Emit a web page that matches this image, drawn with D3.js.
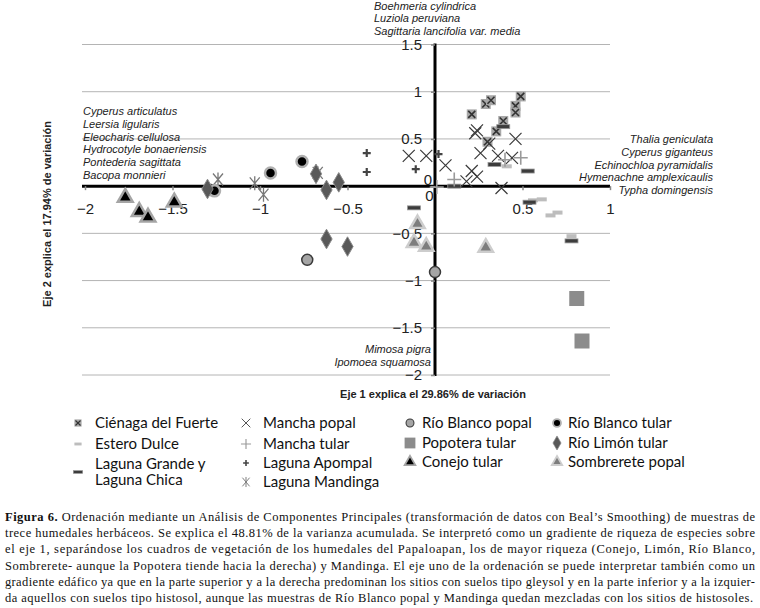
<!DOCTYPE html>
<html>
<head>
<meta charset="utf-8">
<script src="https://cdn.jsdelivr.net/npm/d3@7"></script>
<style>
  body { margin: 0; background: #fff; }
  svg { display: block; }
</style>
</head>
<body>
<svg id="chart" width="760" height="608"></svg>
<script>
// Valores (eje 1, eje 2)
const cienaga = [[0.21, 0.76], [0.29, 0.87], [0.32, 0.91], [0.49, 0.95], [0.46, 0.85], [0.46, 0.78], [0.39, 0.69], [0.35, 0.58], [0.30, 0.47]];
const estero = [[0.41, 0.21], [0.56, -0.15], [0.61, -0.14], [0.66, -0.31], [0.70, -0.28], [0.78, -0.53]];
const lagunaGrande = [[0.39, 0.63], [0.34, 0.23], [0.53, 0.16], [0.11, 0.0], [0.54, -0.17], [0.78, -0.58], [-0.12, -0.23]];
const manchaPopal = [[-0.15, 0.32], [-0.05, 0.32], [0.06, 0.22], [0.18, 0.05], [0.21, 0.16], [0.24, 0.10], [0.23, 0.56], [0.24, 0.59], [0.26, 0.35], [0.31, 0.45], [0.36, 0.32], [0.46, 0.50], [0.44, 0.30], [0.38, -0.02]];
const manchaTular = [[0.01, -0.01], [0.11, 0.07], [0.40, 0.28], [0.49, 0.30]];
const apompal = [[-0.39, 0.35], [-0.39, 0.15], [-0.11, 0.18], [0.02, 0.34]];
const mandinga = [[-1.24, 0.07], [-1.03, 0.03], [-0.98, -0.09], [-0.67, 0.14]];
const rioBlancoPopal = [[-0.73, -0.78], [0.0, -0.91], [-1.28, -0.04]];
const popotera = [[0.81, -1.19], [0.84, -1.64]];
const conejo = [[-1.77, -0.12], [-1.69, -0.27], [-1.64, -0.33], [-1.49, -0.17]];
const rioBlancoTular = [[-0.94, 0.14], [-0.76, 0.26], [-1.26, -0.05]];
const rioLimon = [[-1.30, -0.03], [-0.68, 0.13], [-0.62, -0.04], [-0.55, 0.04], [-0.62, -0.56], [-0.50, -0.64]];
const sombrerete = [[-0.10, -0.40], [-0.12, -0.60], [-0.05, -0.64], [0.29, -0.65]];

const xTicks = [-2, -1.5, -1, -0.5, 0, 0.5, 1];
const yTicks = [-2, -1.5, -1, -0.5, 0, 0.5, 1, 1.5];

const speciesTop = ["Boehmeria cylindrica", "Luziola peruviana", "Sagittaria lancifolia var. media"];
const speciesLeft = ["Cyperus articulatus", "Leersia ligularis", "Eleocharis cellulosa", "Hydrocotyle bonaeriensis", "Pontederia sagittata", "Bacopa monnieri"];
const speciesRight = ["Thalia geniculata", "Cyperus giganteus", "Echinochloa pyramidalis", "Hymenachne amplexicaulis", "Typha domingensis"];
const speciesBottom = ["Mimosa pigra", "Ipomoea squamosa"];

const caption = [
  "Ordenación mediante un Análisis de Componentes Principales (transformación de datos con Beal’s Smoothing) de muestras de",
  "trece humedales herbáceos. Se explica el 48.81% de la varianza acumulada. Se interpretó como un gradiente de riqueza de especies sobre",
  "el eje 1, separándose los cuadros de vegetación de los humedales del Papaloapan, los de mayor riqueza  (Conejo, Limón, Río Blanco,",
  "Sombrerete- aunque la Popotera tiende hacia la derecha) y Mandinga. El eje uno de la ordenación se puede interpretar también como un",
  "gradiente edáfico ya que en la parte superior y a la derecha predominan los sitios con suelos tipo gleysol y en la parte inferior y a la izquier-",
  "da aquellos con suelos tipo histosol, aunque las muestras de Río Blanco popal y Mandinga quedan mezcladas con los sitios de histosoles."
];

// series en orden de dibujo + forma de marcador
const series = [
  { name: "Ciénaga del Fuerte", data: cienaga, mark: "cienaga" },
  { name: "Estero Dulce", data: estero, mark: "dashLight" },
  { name: "Laguna Grande y\nLaguna Chica", data: lagunaGrande, mark: "dashDark" },
  { name: "Mancha popal", data: manchaPopal, mark: "cross" },
  { name: "Mancha tular", data: manchaTular, mark: "plus" },
  { name: "Laguna Apompal", data: apompal, mark: "plusBold" },
  { name: "Laguna Mandinga", data: mandinga, mark: "star" },
  { name: "Río Blanco popal", data: rioBlancoPopal, mark: "circleGrey" },
  { name: "Popotera tular", data: popotera, mark: "square" },
  { name: "Conejo tular", data: conejo, mark: "triBlack" },
  { name: "Río Blanco tular", data: rioBlancoTular, mark: "circleBlack" },
  { name: "Río Limón tular", data: rioLimon, mark: "diamond" },
  { name: "Sombrerete popal", data: sombrerete, mark: "triGrey" }
];

const svg = d3.select("#chart");
const x = d3.scaleLinear().domain([-2, 1]).range([85, 610]);
const y = d3.scaleLinear().domain([-2, 1.5]).range([375, 44.5]);

// líneas de cuadrícula
svg.append("g").selectAll("line")
  .data(yTicks.filter(v => v !== 0))
  .enter().append("line")
  .attr("x1", 82).attr("x2", 610)
  .attr("y1", d => y(d)).attr("y2", d => y(d))
  .attr("stroke", "#b4b4b4").attr("stroke-width", 1);

// ejes que cruzan en el origen
const xAxis = svg.append("g")
  .attr("transform", `translate(0,${y(0)})`)
  .call(d3.axisBottom(x).tickValues(xTicks).tickFormat(d3.format("")).tickSize(4).tickPadding(13));
const yAxis = svg.append("g")
  .attr("transform", `translate(${x(0)},0)`)
  .call(d3.axisLeft(y).tickValues(yTicks).tickFormat(d3.format("")).tickSize(4).tickPadding(9));

[xAxis, yAxis].forEach(ax => {
  ax.select(".domain").attr("stroke", "#000").attr("stroke-width", 3);
  ax.selectAll(".tick line").attr("stroke", "#888").attr("stroke-width", 1.5);
  ax.selectAll(".tick text")
    .attr("fill", "#222")
    .style("font-family", "'Liberation Sans', Arial, sans-serif")
    .style("font-size", "15px");
});
xAxis.select(".domain").attr("d", `M82,0H610`);
yAxis.select(".domain").attr("d", `M0,${y(1.5) - 1}V${y(-2) + 1}`);
xAxis.selectAll(".tick").filter(d => d === 0).select("text").attr("x", -6).attr("y", 4);
yAxis.selectAll(".tick").filter(d => d === 0).select("text").attr("x", -3).attr("y", -6);

// marcadores
function drawMark(g, mark) {
  switch (mark) {
    case "cienaga":
      g.append("rect").attr("x", -5).attr("y", -5).attr("width", 10).attr("height", 10).attr("fill", "#a8a8a8");
      g.append("path").attr("d", "M-3.5,-3.5L3.5,3.5M3.5,-3.5L-3.5,3.5").attr("stroke", "#333").attr("stroke-width", 1.6).attr("fill", "none");
      break;
    case "dashLight":
      g.append("rect").attr("x", -5).attr("y", -2).attr("width", 10).attr("height", 4).attr("fill", "#bdbdbd");
      break;
    case "dashDark":
      g.append("rect").attr("x", -6.5).attr("y", -2).attr("width", 13).attr("height", 4).attr("fill", "#3c3c3c")
        .attr("stroke", "#999").attr("stroke-width", 0.8);
      break;
    case "cross":
      g.append("path").attr("d", "M-6,-6L6,6M6,-6L-6,6").attr("stroke", "#3a3a3a").attr("stroke-width", 1.2).attr("fill", "none");
      break;
    case "plus":
      g.append("path").attr("d", "M-7,0H7M0,-7V7").attr("stroke", "#9a9a9a").attr("stroke-width", 1.6).attr("fill", "none");
      break;
    case "plusBold":
      g.append("path").attr("d", "M-4,0H4M0,-4V4").attr("stroke", "#444").attr("stroke-width", 2.2).attr("fill", "none");
      break;
    case "star":
      g.append("path").attr("d", "M-5,-6L5,6M5,-6L-5,6M0,-7V7").attr("stroke", "#777").attr("stroke-width", 1.3).attr("fill", "none");
      break;
    case "circleGrey":
      g.append("circle").attr("r", 5.5).attr("fill", "#a5a5a5").attr("stroke", "#3a3a3a").attr("stroke-width", 1.5);
      break;
    case "square":
      g.append("rect").attr("x", -7.5).attr("y", -7.5).attr("width", 15).attr("height", 15).attr("fill", "#8c8c8c");
      break;
    case "triBlack":
      g.append("path").attr("d", d3.symbol(d3.symbolTriangle, 95)()).attr("fill", "#000")
        .attr("stroke", "#a5a5a5").attr("stroke-width", 2.5);
      break;
    case "circleBlack":
      g.append("circle").attr("r", 5.5).attr("fill", "#000").attr("stroke", "#b0b0b0").attr("stroke-width", 2.5);
      break;
    case "diamond":
      g.append("path").attr("d", d3.symbol(d3.symbolDiamond, 110)()).attr("fill", "#595959")
        .attr("stroke", "#8a8a8a").attr("stroke-width", 1);
      break;
    case "triGrey":
      g.append("path").attr("d", d3.symbol(d3.symbolTriangle, 90)()).attr("fill", "#7d7d7d")
        .attr("stroke", "#cdcdcd").attr("stroke-width", 2.5);
      break;
  }
}

const pts = svg.append("g");
series.forEach(s => {
  pts.selectAll(null).data(s.data).enter().append("g")
    .attr("transform", d => `translate(${x(d[0])},${y(d[1])})`)
    .each(function() { drawMark(d3.select(this), s.mark); });
});

// nombres de especies
const sans = "'Liberation Sans', Arial, sans-serif";
function speciesBlock(list, px, py, anchor, step) {
  svg.append("g").selectAll("text").data(list).enter().append("text")
    .attr("x", px).attr("y", (d, i) => py + i * step)
    .attr("text-anchor", anchor)
    .attr("fill", "#222")
    .style("font-family", sans).style("font-style", "italic").style("font-size", "11px")
    .text(d => d);
}
speciesBlock(speciesTop, 374, 10, "start", 12.4);
speciesBlock(speciesLeft, 83, 115, "start", 12.8);
speciesBlock(speciesRight, 713, 143, "end", 12.8);
speciesBlock(speciesBottom, 431, 353, "end", 12.8);

// títulos de ejes
svg.append("text")
  .attr("x", 433).attr("y", 398).attr("text-anchor", "middle")
  .style("font-family", sans).style("font-weight", "bold").style("font-size", "11px")
  .attr("fill", "#222")
  .text("Eje 1 explica el 29.86% de variación");
svg.append("text")
  .attr("transform", "translate(51,214) rotate(-90)").attr("text-anchor", "middle")
  .style("font-family", sans).style("font-weight", "bold").style("font-size", "11px")
  .attr("fill", "#222")
  .text("Eje 2 explica el 17.94% de variación");

// leyenda (4 columnas)
const legendCols = [
  { mx: 78, tx: 95, rows: [423, 444, 472] },
  { mx: 246, tx: 263, rows: [423, 444, 463, 482] },
  { mx: 410, tx: 422, rows: [423, 443, 462] },
  { mx: 557, tx: 568, rows: [423, 443, 462] }
];
const colStart = [0, 3, 7, 10];
const legend = svg.append("g");
series.forEach((s, i) => {
  const col = i < 3 ? 0 : i < 7 ? 1 : i < 10 ? 2 : 3;
  const row = i - colStart[col];
  const c = legendCols[col];
  const cy = c.rows[row];
  const g = legend.append("g").attr("transform", `translate(${c.mx},${cy}) scale(0.72)`);
  drawMark(g, s.mark);
  const lines = s.name.split("\n");
  const t = legend.append("text")
    .attr("x", c.tx).attr("y", cy - (lines.length - 1) * 8)
    .attr("fill", "#111")
    .style("font-family", "Lato, 'Open Sans', sans-serif").style("font-size", "15px");
  lines.forEach((ln, k) => {
    t.append("tspan").attr("x", c.tx).attr("dy", k === 0 ? "0.35em" : "1.07em").text(ln);
  });
});

// pie de figura
const cap = svg.append("g")
  .style("font-family", "'Liberation Serif', 'Times New Roman', serif")
  .style("font-size", "12.5px")
  .attr("fill", "#111");
caption.forEach((ln, i) => {
  const t = cap.append("text")
    .attr("x", 5).attr("y", 521 + i * 16.2)
    .attr("textLength", i === 5 ? 748 : 750)
    .attr("lengthAdjust", "spacing");
  if (i === 0) {
    t.append("tspan").style("font-weight", "bold").text("Figura 6.");
    t.append("tspan").text("  " + ln);
  } else {
    t.text(ln);
  }
});
</script>
</body>
</html>
